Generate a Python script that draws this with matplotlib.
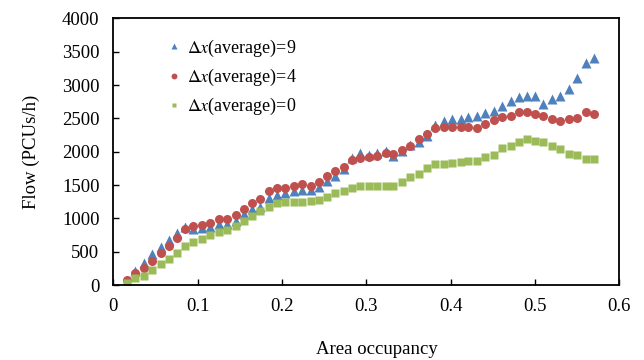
import matplotlib
matplotlib.use("Agg")
import matplotlib.pyplot as plt

plt.rcParams["font.family"] = ["Liberation Serif", "DejaVu Serif"]
plt.rcParams["mathtext.fontset"] = "stix"

# area occupancy
occupancy = [0.016, 0.026, 0.036, 0.046, 0.056, 0.066, 0.076, 0.085, 0.095, 0.105,
             0.115, 0.125, 0.135, 0.145, 0.155, 0.165, 0.174, 0.184, 0.194, 0.204,
             0.214, 0.224, 0.234, 0.244, 0.253, 0.263, 0.273, 0.283, 0.293, 0.303,
             0.313, 0.323, 0.332, 0.342, 0.352, 0.362, 0.372, 0.382, 0.392, 0.402,
             0.412, 0.421, 0.431, 0.441, 0.451, 0.461, 0.471, 0.481, 0.491, 0.500,
             0.510, 0.520, 0.530, 0.540, 0.550, 0.560, 0.570]

flow_dx9 = [60, 215, 325, 460, 575, 675, 785, 875, 835, 850,
            875, 920, 910, 960, 1060, 1135, 1175, 1310, 1350, 1375,
            1410, 1425, 1425, 1470, 1560, 1635, 1735, 1900, 1975, 1950,
            1985, 2010, 1935, 2010, 2100, 2150, 2235, 2400, 2460, 2490,
            2490, 2525, 2540, 2575, 2615, 2690, 2765, 2815, 2840, 2835,
            2715, 2785, 2835, 2935, 3100, 3325, 3410]

flow_dx4 = [75, 175, 250, 365, 485, 590, 710, 835, 885, 900,
            935, 985, 985, 1050, 1135, 1225, 1285, 1410, 1450, 1450,
            1485, 1515, 1490, 1550, 1635, 1715, 1765, 1875, 1910, 1915,
            1935, 1975, 1960, 2025, 2085, 2190, 2265, 2350, 2375, 2375,
            2375, 2375, 2360, 2410, 2475, 2525, 2535, 2590, 2590, 2565,
            2535, 2485, 2465, 2490, 2510, 2590, 2560]

flow_dx0 = [35, 100, 140, 225, 320, 390, 475, 590, 640, 690,
            745, 790, 825, 885, 960, 1035, 1110, 1175, 1225, 1240,
            1240, 1250, 1260, 1270, 1325, 1375, 1410, 1460, 1485, 1485,
            1485, 1485, 1485, 1550, 1615, 1665, 1760, 1815, 1810, 1835,
            1840, 1860, 1860, 1915, 1950, 2060, 2090, 2140, 2190, 2165,
            2140, 2090, 2040, 1960, 1950, 1895, 1895]

fig = plt.figure(figsize=(6.44, 3.6), dpi=100)
ax = fig.add_axes([0.176, 0.2083, 0.7857, 0.7407])

ax.plot(occupancy, flow_dx9, "^", color="#4F81BD", markersize=6.5, mec="none",
        label=r"$\Delta x$(average)=9")
ax.plot(occupancy, flow_dx4, "o", color="#C0504D", markersize=6.5, mec="none",
        label=r"$\Delta x$(average)=4")
ax.plot(occupancy, flow_dx0, "s", color="#9BBB59", markersize=5.5, mec="none",
        label=r"$\Delta x$(average)=0")

ax.set_xlim(0, 0.6)
ax.set_ylim(0, 4000)
ax.set_xticks([0, 0.1, 0.2, 0.3, 0.4, 0.5, 0.6])
ax.set_xticklabels(["0", "0.1", "0.2", "0.3", "0.4", "0.5", "0.6"])
ax.set_yticks(range(0, 4001, 500))

for s in ax.spines.values():
    s.set_linewidth(1.3)
ax.tick_params(direction="in", length=4, width=1, labelsize=13.5)
ax.tick_params(axis="x", pad=9)
ax.tick_params(axis="y", pad=10)

ax.set_xlabel("Area occupancy", fontsize=13.5)
ax.set_ylabel("Flow (PCUs/h)", fontsize=13.5)
ax.xaxis.set_label_coords(0.52, -0.21)
ax.yaxis.set_label_coords(-0.145, 0.5)

ax.legend(loc="upper left", bbox_to_anchor=(0.095, 0.955), frameon=False,
          fontsize=13, markerscale=0.65, handlelength=0.6, handletextpad=0.4,
          labelspacing=0.45, borderaxespad=0)

fig.savefig("out.png", dpi=100)
